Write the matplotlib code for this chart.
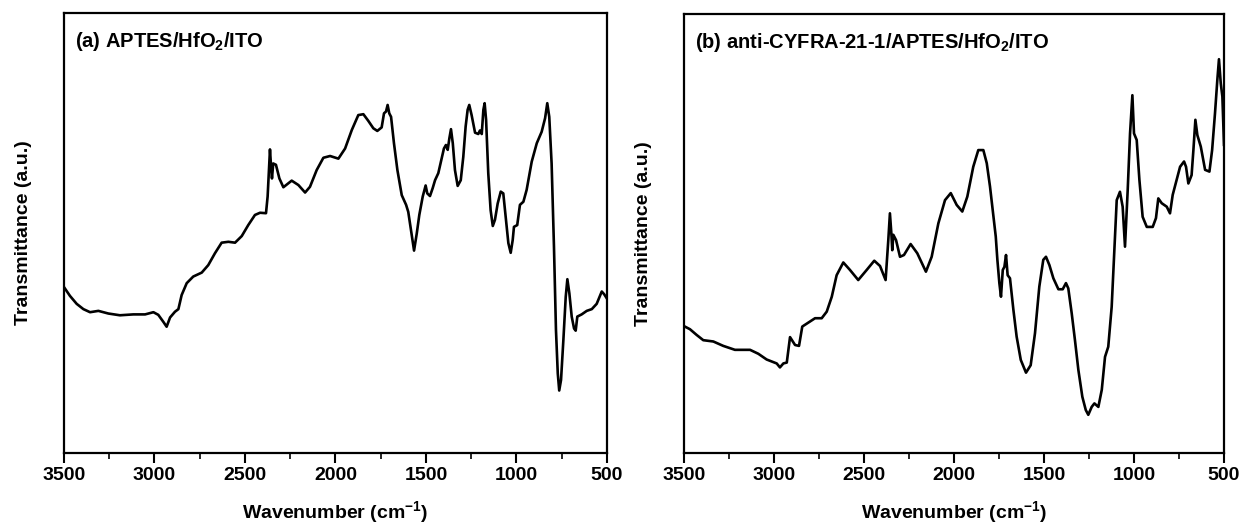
import matplotlib
matplotlib.use("Agg")
import matplotlib.pyplot as plt
from matplotlib.ticker import MultipleLocator

plt.rcParams['font.family'] = ['Liberation Sans', 'DejaVu Sans']
plt.rcParams['mathtext.fontset'] = 'custom'
plt.rcParams['mathtext.rm'] = 'Liberation Sans'
plt.rcParams['mathtext.bf'] = 'Liberation Sans:bold'

# Panel (a): APTES/HfO2/ITO  (wavenumber cm^-1, transmittance a.u.)
wn_a = [3500, 3467, 3430, 3393, 3356, 3310, 3255, 3191, 3117, 3052, 3006, 2979, 2951,
        2933, 2914, 2887, 2868, 2850, 2822, 2786, 2739, 2703, 2666, 2629, 2592, 2555,
        2518, 2482, 2445, 2417, 2384, 2375, 2367, 2362, 2356, 2351, 2344, 2329, 2310,
        2288, 2242, 2205, 2168, 2141, 2104, 2067, 2030, 1984, 1947, 1910, 1874, 1846,
        1819, 1791, 1769, 1745, 1732, 1721, 1712, 1703, 1693, 1677, 1658, 1634, 1610,
        1598, 1583, 1566, 1551, 1537, 1518, 1502, 1493, 1478, 1463, 1450, 1432, 1413,
        1401, 1390, 1380, 1371, 1362, 1352, 1340, 1325, 1308, 1294, 1281, 1270, 1261,
        1248, 1229, 1211, 1202, 1192, 1183, 1176, 1168, 1156, 1143, 1131, 1119, 1104,
        1087, 1073, 1060, 1045, 1032, 1021, 1014, 996, 981, 962, 944, 916, 888, 861,
        842, 830, 819, 806, 793, 782, 772, 764, 754, 741, 728, 719, 708, 695, 682,
        673, 664, 640, 612, 584, 557, 529, 516, 502]
tr_a = [37.7, 35.7, 33.9, 32.7, 32.0, 32.3, 31.7, 31.3, 31.5, 31.5, 32.0, 31.4, 29.8,
        28.7, 30.8, 32.1, 32.7, 35.9, 38.6, 40.1, 41.0, 42.7, 45.4, 47.8, 48.0, 47.8,
        49.3, 51.8, 54.1, 54.6, 54.5, 58.3, 65.1, 69.0, 65.1, 62.4, 65.8, 65.5, 62.4,
        60.4, 61.9, 60.9, 59.2, 60.5, 64.3, 67.1, 67.5, 66.9, 69.2, 73.4, 76.8, 77.0,
        75.5, 73.8, 73.2, 74.0, 77.2, 77.6, 79.1, 77.2, 76.4, 70.4, 64.3, 58.6, 56.4,
        54.8, 50.7, 46.0, 49.9, 54.1, 58.3, 60.8, 59.0, 58.4, 60.2, 62.0, 63.6, 67.0,
        69.2, 70.0, 68.9, 71.5, 73.6, 70.4, 64.3, 60.7, 62.0, 67.3, 74.2, 78.0, 79.1,
        76.8, 72.8, 72.5, 73.3, 72.5, 78.0, 79.5, 75.7, 63.6, 55.2, 51.6, 53.0, 56.7,
        59.4, 59.0, 53.7, 47.7, 45.5, 48.4, 51.4, 51.8, 56.4, 57.1, 59.8, 66.2, 70.4, 73.0,
        76.1, 79.5, 76.4, 65.8, 46.9, 28.0, 18.1, 14.2, 16.6, 25.7, 35.5, 39.5, 36.3, 31.0,
        28.3, 27.8, 31.0, 31.5, 32.3, 32.7, 33.9, 36.7, 36.1, 35.2]

# Panel (b): anti-CYFRA-21-1/APTES/HfO2/ITO
wn_b = [3500, 3467, 3430, 3393, 3337, 3282, 3217, 3133, 3087, 3041, 2985, 2967, 2948,
        2929, 2911, 2883, 2861, 2843, 2809, 2772, 2735, 2707, 2679, 2652, 2615, 2578,
        2532, 2485, 2443, 2411, 2380, 2365, 2356, 2348, 2343, 2337, 2322, 2300, 2278,
        2241, 2204, 2156, 2124, 2087, 2050, 2018, 1985, 1954, 1926, 1893, 1865, 1837,
        1818, 1800, 1781, 1768, 1759, 1748, 1739, 1729, 1720, 1711, 1702, 1689, 1670,
        1652, 1629, 1600, 1574, 1550, 1526, 1504, 1489, 1470, 1448, 1420, 1396, 1378,
        1365, 1346, 1328, 1309, 1287, 1268, 1254, 1235, 1220, 1198, 1179, 1161, 1143,
        1124, 1111, 1096, 1078, 1063, 1050, 1035, 1022, 1009, 1000, 985, 970, 952, 929,
        896, 878, 865, 846, 818, 800, 785, 763, 744, 722, 711, 698, 680, 670, 659, 648,
        629, 605, 581, 566, 550, 537, 528, 518, 509, 500]
tr_b = [28.9, 28.2, 26.9, 25.7, 25.4, 24.4, 23.5, 23.5, 22.6, 21.3, 20.4, 19.5, 20.4,
        20.6, 26.4, 24.6, 24.4, 28.8, 29.7, 30.7, 30.7, 32.2, 35.6, 40.5, 43.4, 41.7,
        39.4, 41.7, 43.8, 42.6, 39.4, 48.5, 54.6, 50.0, 46.2, 49.7, 48.5, 44.7, 45.1,
        47.6, 45.5, 41.3, 44.7, 52.3, 57.6, 59.2, 56.5, 55.0, 58.4, 65.2, 69.0, 69.0,
        66.0, 60.7, 53.8, 49.3, 44.0, 38.7, 35.6, 41.7, 42.4, 45.1, 40.5, 39.8, 32.6,
        26.5, 21.2, 18.3, 20.0, 27.3, 37.9, 44.0, 44.7, 42.8, 39.8, 37.3, 37.3, 38.7,
        37.5, 31.8, 25.7, 18.9, 12.8, 9.8, 8.7, 10.5, 11.3, 10.5, 14.4, 21.9, 24.2,
        33.3, 44.7, 57.6, 59.5, 56.1, 47.0, 59.9, 72.8, 81.5, 72.8, 71.3, 62.2, 53.8, 51.5,
        51.5, 53.5, 58.0, 56.9, 56.1, 54.6, 58.8, 62.2, 65.2, 66.4, 65.2, 61.4, 63.3, 69.0,
        75.9, 72.4, 69.8, 64.5, 64.1, 69.0, 77.4, 85.0, 89.7, 84.2, 81.2, 70.2]

panels = [(wn_a, tr_a, '(a) APTES/HfO$_\\mathbf{2}$/ITO'),
          (wn_b, tr_b, '(b) anti-CYFRA-21-1/APTES/HfO$_\\mathbf{2}$/ITO')]

fig = plt.figure(figsize=(12.43, 5.27), dpi=100)
rects = [[64/1243, 74/527, 543/1243, 440/527],
         [684/1243, 74/527, 540/1243, 439/527]]

for rect, (wn, tr, title) in zip(rects, panels):
    ax = fig.add_axes(rect)
    ax.plot(wn, tr, color='black', lw=1.9, solid_joinstyle='round')
    ax.set_xlim(3500, 500)
    ax.set_ylim(0, 100)
    ax.xaxis.set_major_locator(MultipleLocator(500))
    ax.xaxis.set_minor_locator(MultipleLocator(250))
    ax.tick_params(axis='x', which='major', direction='out', length=7, width=1.5,
                   labelsize=14, pad=3)
    ax.tick_params(axis='x', which='minor', direction='out', length=4, width=1.2)
    ax.tick_params(axis='y', left=False, labelleft=False)
    for lbl in ax.get_xticklabels():
        lbl.set_fontweight('bold')
    for sp in ax.spines.values():
        sp.set_linewidth(1.6)
    ax.set_xlabel('Wavenumber (cm$^{\\mathbf{-1}}$)', fontsize=14, fontweight='bold',
                  labelpad=11)
    ax.set_ylabel('Transmittance (a.u.)', fontsize=14, fontweight='bold', labelpad=23)
    ax.text(0.02, 0.935, title, transform=ax.transAxes, fontsize=14.5,
            fontweight='bold', va='center', ha='left')

fig.savefig('out.png', dpi=100)
